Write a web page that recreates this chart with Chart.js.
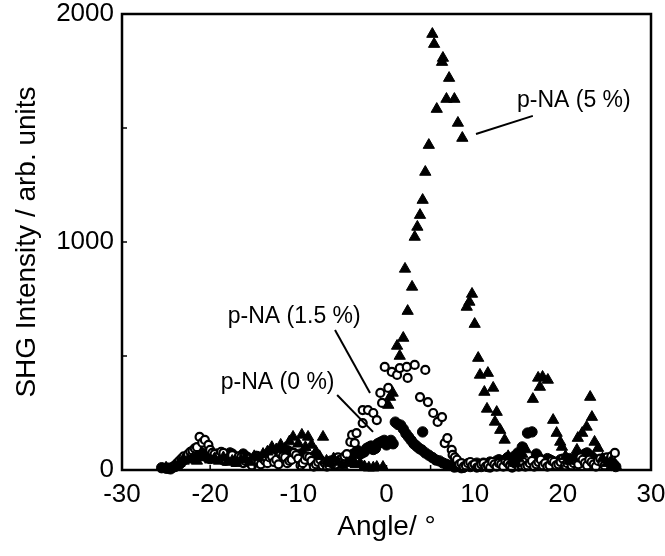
<!DOCTYPE html>
<html>
<head>
<meta charset="utf-8">
<script src="https://cdn.jsdelivr.net/npm/chart.js@4/dist/chart.umd.min.js"></script>
<style>
  html, body { margin: 0; padding: 0; background: #fff; }
  #wrap { width: 665px; height: 556px; }
</style>
</head>
<body>
<div id="wrap"><canvas id="shgChart" width="665" height="556"></canvas></div>
<script>
// p-NA (5 %) - filled triangles
const angle5 = [-25, -24, -23.5, -23, -22.5, -22, -21.5, -21, -20.5, -20, -19.5, -19, -18.5, -18, -17.5, -17, -16.5, -16, -15.5, -15,
  -14.5, -14, -13.5, -13, -12.5, -12, -11.5, -11, -10.6, -10, -9.6, -9.2, -8.9, -8.5, -8, -7.6, -7.2, -6.8, -6.4, -6,
  -5.5, -5, -4.5, -4, -3.5, -3, -2.5, -2, -1.5, -1.1, -0.4, 0.2, 0.4, 0.7, 1.2, 1.5, 1.9, 2.1, 2.4, 2.9,
  3.2, 3.5, 3.8, 4.1, 4.4, 4.8, 5.2, 5.4, 5.7, 6.3, 6.4, 6.8, 7.1, 7.7, 8.1, 8.6, 9.1, 9.4, 9.7, 10.0,
  10.4, 10.6, 11.1, 11.5, 11.4, 12.1, 12.5, 12.3, 12.9, 13.4, 13.8, 14.2, 14.6, 15.0, 15.4, 15.8, 16.6, 17.2, 17.4, 17.7,
  18.3, 18.9, 19.3, 19.7, 19.9, 20.3, 20.7, 21.2, 21.6, 21.7, 22.2, 22.7, 23.1, 23.3, 23.6, 24.0, 24.5, 25.0, 25.5, 26.0];
const inten5 = [10, 15, 30, 40, 45, 50, 40, 55, 60, 45, 50, 40, 55, 35, 40, 30, 45, 50, 35, 60,
  55, 70, 80, 100, 90, 110, 95, 125, 145, 115, 154, 100, 145, 110, 80, 60, 145, 40, 30, 50,
  35, 20, 30, 40, 25, 30, 15, 10, 10, 13, 13, 285, 320, 338, 544, 500, 579, 882, 697, 803,
  1022, 1066, 1118, 1184, 1307, 1425, 1912, 1868, 1583, 1789, 1807, 1627, 1719, 1627, 1522, 1456, 715, 737, 772, 640,
  491, 417, 342, 425, 268, 360, 254, 211, 175, 132, 60, 40, 30, 50, 70, 90, 311, 404, 364, 408,
  395, 219, 162, 123, 101, 60, 40, 50, 88, 140, 162, 189, 320, 232, 123, 96, 50, 30, 40, 20];

// p-NA (1.5 %) - open circles
const angle15 = [-24, -23.75, -23.5, -23.25, -23, -22.75, -22.5, -22.25, -22, -21.75, -21.5, -21.2, -20.9, -20.6, -20.2, -20, -19.75, -19.5, -19.25, -19,
  -18.75, -18.5, -18.25, -18, -17.75, -17.5, -17.25, -17, -16.75, -16.5, -16.25, -16, -15.75, -15.5, -15.25, -15, -14.75, -14.5, -14.25, -14,
  -13.75, -13.5, -13.25, -13, -12.75, -12.5, -12.25, -12, -11.75, -11.5, -11.25, -11, -10.75, -10.5, -10.25, -10, -9.75, -9.5, -9.25, -9,
  -8.75, -8.5, -8.25, -8, -7.75, -7.5, -7.25, -7, -6.75, -6.5, -6.25, -6, -5.75, -5.5, -5.25, -5, -4.75, -4.5, -4.1, -3.9,
  -3.6, -3.4, -2.7, -2.7, -2.1, -1.5, -1.1, -0.7, -0.5, -0.2, 0.2, 0.6, 1.2, 1.5, 2.3, 2.4, 3.2, 3.8, 4.4, 4.7,
  5.3, 5.8, 6.3, 6.6, 6.9, 7.4, 7.5, 7.75, 8, 8.25, 8.5, 8.75, 9, 9.25, 9.5, 9.75, 10, 10.25, 10.5, 10.75,
  11, 11.25, 11.5, 11.75, 12, 12.25, 12.5, 12.75, 13, 13.25, 13.5, 13.75, 14, 14.25, 14.5, 14.75, 15, 15.25, 15.5, 15.75,
  16, 16.25, 16.5, 16.75, 17, 17.25, 17.5, 17.75, 18, 18.25, 18.5, 18.75, 19, 19.25, 19.5, 19.75, 20, 20.25, 20.5, 20.75,
  21, 21.25, 21.5, 21.75, 22, 22.25, 22.5, 22.75, 23, 23.25, 23.5, 23.75, 24, 24.25, 24.5, 24.75, 25, 25.25, 25.5, 25.9];
const inten15 = [20, 30, 40, 50, 60, 55, 70, 80, 85, 95, 100, 145, 120, 132, 110, 88, 75, 70, 55, 60,
  80, 75, 40, 50, 55, 65, 35, 45, 60, 55, 30, 40, 50, 30, 20, 45, 60, 35, 25, 50,
  40, 30, 55, 60, 35, 45, 25, 70, 60, 55, 30, 40, 45, 75, 65, 50, 20, 30, 45, 60,
  55, 40, 15, 25, 35, 45, 20, 30, 15, 20, 30, 40, 25, 55, 45, 35, 60, 70, 123, 154,
  118, 162, 206, 263, 263, 250, 219, 338, 294, 452, 360, 430, 417, 447, 452, 404, 461, 320, 439, 298,
  250, 211, 232, 118, 140, 88, 66, 55, 45, 25, 30, 15, 20, 30, 35, 20, 25, 10, 15, 25,
  30, 15, 20, 10, 35, 25, 15, 30, 25, 15, 40, 30, 20, 10, 30, 25, 15, 20, 35, 15,
  20, 30, 40, 15, 25, 35, 45, 20, 30, 15, 20, 40, 35, 20, 25, 35, 50, 20, 30, 40,
  20, 30, 40, 25, 55, 45, 30, 20, 45, 35, 25, 15, 40, 50, 30, 20, 55, 40, 60, 75];

// p-NA (0 %) - filled circles
const angle0 = [-25.5, -25, -24.75, -24.5, -24.25, -24, -23.75, -23.5, -23.25, -23, -22.75, -22.5, -22.25, -22, -21.75, -21.5, -21.25, -21, -20.75, -20.5,
  -20.25, -20, -19.75, -19.5, -19.25, -19, -18.75, -18.5, -18.25, -18, -17.75, -17.5, -17.25, -17, -16.75, -16.5, -16.25, -16, -15.75, -15.5,
  -15.25, -15, -14.75, -14.5, -14.25, -14, -13.75, -13.5, -13.25, -13, -12.75, -12.5, -12.25, -12, -11.75, -11.5, -11.25, -11, -10.75, -10.5,
  -10.25, -10, -9.75, -9.5, -9.25, -9, -8.75, -8.5, -8.25, -8, -7.75, -7.5, -7.25, -7, -6.75, -6.5, -6.25, -6, -5.75, -5.5,
  -5.25, -5, -4.75, -4.5, -4.25, -4, -3.75, -3.5, -3.25, -3, -2.75, -2.5, -2.25, -2, -1.75, -1.5, -1.25, -1, -0.75, -0.5,
  -0.25, 0, 0.25, 0.5, 0.75, 1.0, 1.3, 1.6, 1.9, 2.2, 2.5, 2.8, 3.1, 3.4, 3.7, 4.0, 4.1, 4.4, 4.8, 5.2,
  5.6, 6.0, 6.4, 6.8, 7.2, 7.7, 8, 8.25, 8.5, 8.75, 9, 9.25, 9.5, 9.75, 10, 10.25, 10.5, 10.75, 11, 11.25,
  11.5, 11.75, 12, 12.25, 12.5, 12.75, 13, 13.25, 13.5, 13.75, 14, 14.25, 14.5, 14.75, 14.9, 15.4, 16, 16.5, 17, 17.25,
  17.5, 17.75, 18, 18.25, 18.5, 18.75, 19, 19.25, 19.5, 19.75, 20, 20.25, 20.5, 20.75, 21, 21.25, 21.5, 21.75, 22, 22.25,
  22.5, 22.75, 23, 23.25, 23.5, 23.75, 24, 24.25, 24.5, 24.75, 25, 25.25, 25.5, 25.75, 26];
const inten0 = [10, 8, 8, 5, 12, 15, 20, 25, 35, 45, 55, 60, 75, 70, 65, 55, 80, 75, 70, 60,
  55, 50, 60, 65, 70, 55, 50, 45, 65, 60, 75, 70, 60, 55, 50, 45, 70, 60, 55, 40,
  45, 50, 60, 45, 50, 55, 65, 40, 45, 50, 70, 60, 80, 75, 70, 65, 85, 80, 75, 70,
  60, 55, 70, 65, 55, 50, 45, 40, 60, 55, 40, 30, 30, 20, 25, 35, 40, 25, 35, 45,
  50, 30, 45, 55, 60, 65, 70, 75, 85, 70, 75, 80, 95, 100, 105, 90, 95, 115, 120, 125,
  130, 110, 120, 130, 115, 210, 200, 197, 180, 160, 145, 130, 115, 105, 95, 88, 167, 75, 65, 55,
  44, 40, 31, 25, 20, 13, 15, 18, 10, 12, 20, 25, 15, 20, 25, 30, 20, 15, 30, 25,
  15, 35, 25, 20, 40, 45, 30, 35, 45, 55, 40, 50, 60, 65, 75, 101, 162, 167, 70, 55,
  40, 35, 30, 50, 45, 40, 35, 30, 25, 45, 40, 35, 30, 50, 45, 40, 55, 65, 60, 55,
  70, 75, 50, 60, 40, 45, 30, 35, 45, 50, 35, 30, 20, 25, 15];

const xTicks = [-30, -20, -10, 0, 10, 20, 30];
const yTicks = [0, 1000, 2000];

// labels with leader lines, in data units
const labels = [
  { text: "p-NA (5 %)", x: 14.8, y: 1618, from: [16.6, 1553], to: [10.15, 1474] },
  { text: "p-NA (1.5 %)", x: -18.0, y: 671, from: [-5.84, 614], to: [-1.87, 338] },
  { text: "p-NA (0 %)", x: -18.8, y: 382, from: [-5.6, 329], to: [-1.53, 167] }
];

const FONT = "'Liberation Sans', Arial, Helvetica, sans-serif";

function pts(xs, ys) {
  return xs.map((x, i) => ({ x: x, y: ys[i] }));
}

// frame, inward ticks and the labels
const framePlugin = {
  id: "frame",
  afterDatasetsDraw(chart) {
    const ctx = chart.ctx;
    const a = chart.chartArea;
    const xs = chart.scales.x, ys = chart.scales.y;
    ctx.save();
    ctx.strokeStyle = "#000";
    ctx.lineWidth = 2.5;
    ctx.strokeRect(a.left, a.top, a.right - a.left, a.bottom - a.top);
    ctx.lineWidth = 1.5;
    ctx.beginPath();
    for (let v = -25; v < 30; v += 5) {
      const px = xs.getPixelForValue(v);
      ctx.moveTo(px, a.bottom);
      ctx.lineTo(px, a.bottom - 5);
    }
    for (let v = 500; v < 2000; v += 500) {
      const py = ys.getPixelForValue(v);
      ctx.moveTo(a.left, py);
      ctx.lineTo(a.left + 5, py);
    }
    ctx.stroke();

    ctx.fillStyle = "#000";
    ctx.font = "23px " + FONT;
    ctx.textBaseline = "middle";
    ctx.textAlign = "left";
    ctx.lineWidth = 2;
    labels.forEach(l => {
      ctx.fillText(l.text, xs.getPixelForValue(l.x), ys.getPixelForValue(l.y));
      ctx.beginPath();
      ctx.moveTo(xs.getPixelForValue(l.from[0]), ys.getPixelForValue(l.from[1]));
      ctx.lineTo(xs.getPixelForValue(l.to[0]), ys.getPixelForValue(l.to[1]));
      ctx.stroke();
    });
    ctx.restore();
  }
};

const ctx = document.getElementById("shgChart").getContext("2d");

new Chart(ctx, {
  type: "scatter",
  data: {
    datasets: [
      {
        label: "p-NA (5 %)",
        data: pts(angle5, inten5),
        pointStyle: "triangle",
        pointRadius: 6.5,
        backgroundColor: "#000",
        borderColor: "#000",
        borderWidth: 1
      },
      {
        label: "p-NA (1.5 %)",
        data: pts(angle15, inten15),
        pointStyle: "circle",
        pointRadius: 4,
        backgroundColor: "#fff",
        borderColor: "#000",
        borderWidth: 2.2
      },
      {
        label: "p-NA (0 %)",
        data: pts(angle0, inten0),
        pointStyle: "circle",
        pointRadius: 5.2,
        backgroundColor: "#000",
        borderColor: "#000",
        borderWidth: 1
      }
    ]
  },
  options: {
    responsive: false,
    animation: false,
    clip: false,
    layout: { padding: { top: 14, right: 14, left: 0, bottom: 0 } },
    plugins: {
      legend: { display: false },
      tooltip: { enabled: false }
    },
    scales: {
      x: {
        type: "linear",
        min: -30,
        max: 30,
        afterBuildTicks: s => { s.ticks = xTicks.map(v => ({ value: v })); },
        afterFit: s => { s.height = 86; s.paddingLeft = 0; s.paddingRight = 0; },
        grid: { display: false, drawTicks: false },
        border: { display: false },
        ticks: { color: "#000", font: { family: FONT, size: 26 }, padding: 9, maxRotation: 0,
          callback: v => String(v) },
        title: {
          display: true,
          text: "Angle/ °",
          color: "#000",
          font: { family: FONT, size: 28 },
          padding: { top: 0, bottom: 12 }
        }
      },
      y: {
        type: "linear",
        min: 0,
        max: 2000,
        afterBuildTicks: s => { s.ticks = yTicks.map(v => ({ value: v })); },
        afterFit: s => { s.width = 122; s.paddingTop = 0; s.paddingBottom = 0; },
        grid: { display: false, drawTicks: false },
        border: { display: false },
        ticks: { color: "#000", font: { family: FONT, size: 26 }, padding: 8,
          callback: v => String(v) },
        title: {
          display: true,
          text: "SHG Intensity / arb. units",
          color: "#000",
          font: { family: FONT, size: 28 },
          padding: { top: 10, bottom: 0 }
        }
      }
    }
  },
  plugins: [framePlugin]
});
</script>
</body>
</html>
